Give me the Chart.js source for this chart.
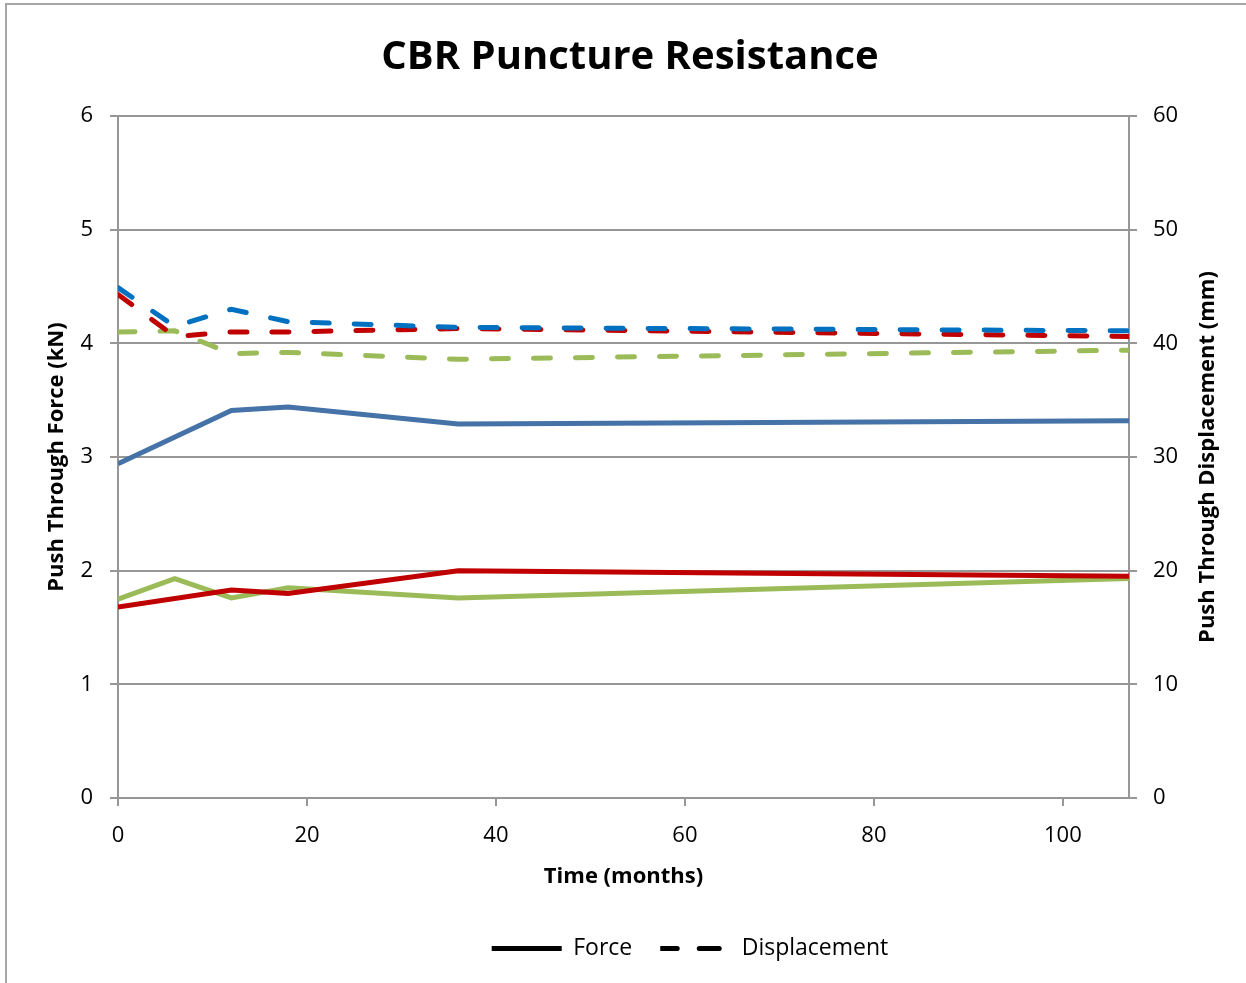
<!DOCTYPE html>
<html>
<head>
<meta charset="utf-8">
<script src="https://cdn.jsdelivr.net/npm/chart.js@4.4.0/dist/chart.umd.min.js"></script>
<style>
	html, body { margin: 0; padding: 0; background: #fff; overflow: hidden; }
	#frame {
		position: absolute; left: 5px; top: 3px; width: 1400px; height: 1200px;
		border: 2px solid #a6a6a6; box-sizing: border-box;
	}
	#wrap { position: absolute; left: 0; top: 0; width: 1246px; height: 983px; }
</style>
</head>
<body>
<div id="frame"></div>
<div id="wrap"><canvas id="cbrChart" width="1246" height="983"></canvas></div>
<script>
// time in months
var months = [0, 6, 12, 18, 36, 107];

// push through force (kN), left axis
var forceBlue  = [2.94, null, 3.41, 3.44, 3.29, 3.32];
var forceRed   = [1.68, null, 1.83, 1.80, 2.00, 1.95];
var forceGreen = [1.75, 1.93, 1.76, 1.85, 1.76, 1.93];

// push through displacement (mm), right axis
var dispBlue  = [44.9, 41.5, 43.0, 41.9, 41.4, 41.1];
var dispRed   = [44.3, 40.6, 41.0, 41.0, 41.3, 40.6];
var dispGreen = [41.0, 41.1, 39.1, 39.2, 38.6, 39.4];

var xTicks = [0, 20, 40, 60, 80, 100];
var leftTicks = [0, 1, 2, 3, 4, 5, 6];
var rightTicks = [0, 10, 20, 30, 40, 50, 60];

var colors = {
	blue: "#4572a7",
	red: "#c00000",
	green: "#9bbb59",
	blueDash: "#0070c0"
};

var gridColor = "#979797",
	 fontName = "'Open Sans', 'DejaVu Sans', sans-serif",
	 dashPattern = [17, 25],
	 rightTitle = "Push Through Displacement (mm)";

function pairs(ys) {
	var out = [];
	for (var i = 0; i < months.length; i++) {
		out.push({ x: months[i], y: ys[i] });
	}
	return out;
}

function solidSet(label, ys, color) {
	return {
		label: label,
		data: pairs(ys),
		yAxisID: "y",
		borderColor: color,
		backgroundColor: color,
		borderWidth: 5,
		pointRadius: 0,
		spanGaps: true,
		tension: 0
	};
}

function dashSet(label, ys, color) {
	return {
		label: label,
		data: pairs(ys),
		yAxisID: "y2",
		borderColor: color,
		backgroundColor: color,
		borderWidth: 5,
		borderDash: dashPattern,
		borderCapStyle: "round",
		pointRadius: 0,
		tension: 0
	};
}

function fixedTicks(list) {
	return function(scale) {
		scale.ticks = list.map(function(v) { return { value: v }; });
	};
}

// legend and title sit a bit right of centre in the original, and the
// right axis title reads bottom-to-top
var tweaks = {
	id: "tweaks",
	afterLayout: function(chart) {
		chart.legend.left += 67;
		chart.legend.right += 67;
		chart.legend.top += 2;
		chart.legend.bottom += 2;
		chart.titleBlock.left += 7;
		chart.titleBlock.right += 7;
	},
	afterDraw: function(chart) {
		var c = chart.ctx,
			 s = chart.scales.y2,
			 area = chart.chartArea;
		c.save();
		c.translate(s.right - 38, (area.top + area.bottom) / 2);
		c.rotate(-Math.PI / 2);
		c.textAlign = "center";
		c.textBaseline = "middle";
		c.fillStyle = "#000";
		c.font = "bold 22px " + fontName;
		c.fillText(rightTitle, 0, 0);
		c.restore();
	}
};

var ctx = document.getElementById("cbrChart").getContext("2d");

var cbrChart = new Chart(ctx, {
	type: "line",
	data: {
		datasets: [
			solidSet("Force blue", forceBlue, colors.blue),
			solidSet("Force red", forceRed, colors.red),
			solidSet("Force green", forceGreen, colors.green),
			dashSet("Displacement blue", dispBlue, colors.blueDash),
			dashSet("Displacement red", dispRed, colors.red),
			dashSet("Displacement green", dispGreen, colors.green)
		]
	},
	plugins: [tweaks],
	options: {
		responsive: false,
		animation: false,
		layout: { padding: { left: 0, right: 0, top: 0, bottom: 15 } },
		plugins: {
			title: {
				display: true,
				text: "CBR Puncture Resistance",
				color: "#000",
				font: { family: fontName, size: 40, weight: "bold" },
				padding: { top: 34, bottom: 34 }
			},
			legend: {
				position: "bottom",
				labels: {
					color: "#000",
					font: { family: fontName, size: 23 },
					boxWidth: 70,
					boxHeight: 0,
					padding: 28,
					generateLabels: function() {
						return [
							{ text: "Force", fillStyle: "rgba(0,0,0,0)", strokeStyle: "#000", lineWidth: 5, lineCap: "round", lineDash: [], hidden: false, fontColor: "#000" },
							{ text: "Displacement", fillStyle: "rgba(0,0,0,0)", strokeStyle: "#000", lineWidth: 5, lineCap: "round", lineDash: dashPattern, hidden: false, fontColor: "#000" }
						];
					}
				},
				onClick: null
			},
			tooltip: { enabled: false }
		},
		scales: {
			x: {
				type: "linear",
				min: 0,
				max: months[months.length - 1],
				afterFit: function(scale) { scale.height = 109; },
				afterBuildTicks: fixedTicks(xTicks),
				border: { color: gridColor, width: 2 },
				grid: { drawOnChartArea: false, color: gridColor, lineWidth: 2, tickLength: 8 },
				ticks: {
					color: "#000",
					padding: 17,
					font: { family: fontName, size: 22 }
				},
				title: {
					display: true,
					text: "Time (months)",
					color: "#000",
					font: { family: fontName, size: 22, weight: "bold" },
					padding: { top: 0, bottom: 17 }
				}
			},
			y: {
				position: "left",
				min: 0,
				max: 6,
				afterFit: function(scale) { scale.width = 118; },
				afterBuildTicks: fixedTicks(leftTicks),
				border: { color: gridColor, width: 2 },
				grid: { color: gridColor, lineWidth: 2, tickLength: 8 },
				ticks: {
					color: "#000",
					padding: 17,
					font: { family: fontName, size: 22 }
				},
				title: {
					display: true,
					text: "Push Through Force (kN)",
					color: "#000",
					font: { family: fontName, size: 22, weight: "bold" },
					padding: { top: 44, bottom: 0 }
				}
			},
			y2: {
				position: "right",
				min: 0,
				max: 60,
				afterFit: function(scale) { scale.width = 117; },
				afterBuildTicks: fixedTicks(rightTicks),
				border: { color: gridColor, width: 2 },
				grid: { drawOnChartArea: false, color: gridColor, lineWidth: 2, tickLength: 8 },
				ticks: {
					color: "#000",
					padding: 16,
					font: { family: fontName, size: 22 }
				}
			}
		}
	}
});
</script>
</body>
</html>
